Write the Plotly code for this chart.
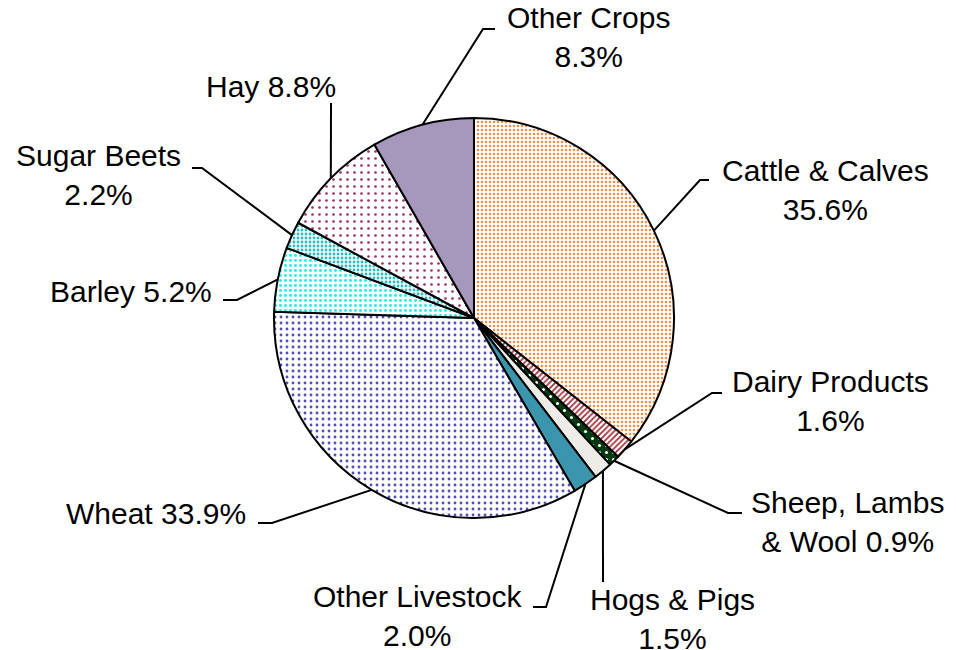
import math
import plotly.graph_objects as go

# ---- data ----
categories = ["Cattle & Calves", "Dairy Products", "Sheep, Lambs & Wool", "Hogs & Pigs",
              "Other Livestock", "Wheat", "Barley", "Sugar Beets", "Hay", "Other Crops"]
shares = [35.6, 1.6, 0.9, 1.5, 2.0, 33.9, 5.2, 2.2, 8.8, 8.3]
label_heads = ["Cattle & Calves", "Dairy Products", "Sheep, Lambs<br>& Wool", "Hogs & Pigs",
               "Other Livestock", "Wheat", "Barley", "Sugar Beets", "Hay", "Other Crops"]
label_seps = ["<br>", "<br>", " ", "<br>", "<br>", " ", " ", "<br>", " ", "<br>"]

# ---- styles ----
bg_colors = ["#ffffff", "#ffffff", "#003a10", "#eeece6", "#3a95ad",
             "#ffffff", "#ffffff", "#ffffff", "#ffffff", "#a697bd"]
fg_colors = ["#ff8a3a", "#a0303a", "#ffffff", "#eeece6", "#3a95ad",
             "#5050b8", "#22eeee", "#22c0c0", "#a03060", "#a697bd"]
shapes_pat = [".", "/", ".", "", "", ".", ".", ".", ".", ""]
pat_sizes = [4, 4, 7, 6, 6, 6, 5, 4, 7, 6]
pat_solid = [0.3, 0.45, 0.15, 0.3, 0.3, 0.18, 0.28, 0.4, 0.12, 0.3]

W, H = 956, 650
OFF = 8  # page body margin offset
CX, CY, R = 474, 318, 200  # pie centre / radius in pixels (screen)

# label block centres and elbow points (screen pixels)
label_pos = [(825, 190), (830, 401), (847, 522), (672, 619), (417, 616),
             (156, 513), (131, 291), (98, 175), (271, 86), (588, 37)]
elbows = [[(700, 180), (709, 180)], [(712, 393), (722, 393)], [(728, 513), (742, 513)],
          [(603, 582)], [(546, 607), (533, 607)], [(272, 523), (258, 523)],
          [(237, 300), (223, 300)], [(202, 168), (192, 168)], [(331, 103)],
          [(483, 29), (495, 29)]]


def px(x):
    return (x - OFF) / W


def py(y):
    return 1 - (y - OFF) / H


fig = go.Figure(go.Pie(
    labels=categories, values=shares, sort=False, direction="clockwise", rotation=0,
    textinfo="none", hoverinfo="label+percent", showlegend=False,
    domain=dict(x=[px(CX - R), px(CX + R)], y=[py(CY + R), py(CY - R)]),
    marker=dict(colors=bg_colors, line=dict(color="black", width=2),
                pattern=dict(shape=shapes_pat, fgcolor=fg_colors, bgcolor=bg_colors,
                             size=pat_sizes, solidity=pat_solid, fillmode="replace")),
))

total = sum(shares)
cum = 0.0
shapes = []
annotations = []
for i, v in enumerate(shares):
    mid = (cum + v / 2) / total * 2 * math.pi
    cum += v
    sx = CX + R * math.sin(mid)
    sy = CY - R * math.cos(mid)
    pts = [(sx, sy)] + elbows[i]
    path = "M " + " L ".join(f"{px(a):.5f},{py(b):.5f}" for a, b in pts)
    shapes.append(dict(type="path", path=path, xref="paper", yref="paper",
                       line=dict(color="black", width=2)))
    lx, ly = label_pos[i]
    annotations.append(dict(x=px(lx), y=py(ly), xref="paper", yref="paper",
                            text=f"{label_heads[i]}{label_seps[i]}{v:.1f}%",
                            showarrow=False, xanchor="center", yanchor="middle",
                            align="center",
                            font=dict(family="Liberation Sans, Arial", size=30, color="black")))

fig.update_layout(width=W, height=H, margin=dict(l=0, r=0, t=0, b=0),
                  paper_bgcolor="white", plot_bgcolor="white",
                  shapes=shapes, annotations=annotations)

fig.write_html("out.html")
